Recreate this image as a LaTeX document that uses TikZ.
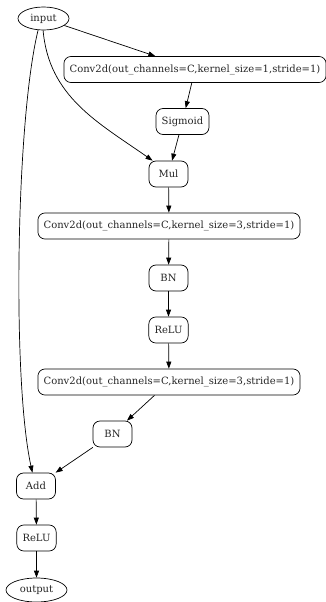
\documentclass[tikz,border=0pt]{standalone}
\usepackage{fontspec}
\setmainfont{DejaVu Serif}
\usetikzlibrary{arrows.meta,shapes.geometric}
\tikzset{
  x=1pt,y=1pt,
  every node/.style={font=\fontsize{10}{12}\selectfont, text=black!85},
  op/.style={draw, rectangle, rounded corners=7pt, line width=0.7pt, minimum height=26pt, minimum width=39pt, inner xsep=5.7pt, inner ysep=0pt},
  io/.style={draw, ellipse, line width=0.7pt, inner sep=0pt},
  edge/.style={-{Triangle[length=7pt,width=5pt]}, line width=0.7pt}
}
\begin{document}
\begin{tikzpicture}
\useasboundingbox (0,0) rectangle (326,-602);
\node[io, minimum width=51pt, minimum height=23pt] (input) at (43.5,-18.5) {input};
\node[op] (conv1) at (195,-69.5) {Conv2d(out\_channels=C,kernel\_size=1,stride=1)};
\node[op] (sig) at (182.5,-121.5) {Sigmoid};
\node[op] (mul) at (168.5,-174) {Mul};
\node[op] (conv2) at (169,-226) {Conv2d(out\_channels=C,kernel\_size=3,stride=1)};
\node[op] (bn1) at (168.5,-278) {BN};
\node[op] (relu1) at (168.5,-330) {ReLU};
\node[op] (conv3) at (169,-382) {Conv2d(out\_channels=C,kernel\_size=3,stride=1)};
\node[op] (bn2) at (112.5,-434) {BN};
\node[op] (add) at (36,-486) {Add};
\node[op] (relu2) at (36.5,-538) {ReLU};
\node[io, minimum width=61pt, minimum height=24pt] (output) at (36.5,-590) {output};
\draw[edge] (input) -- (conv1);
\draw[edge] (conv1) -- (sig);
\draw[edge] (sig) -- (mul);
\draw[edge] (input.268) to[out=-85,in=145] (mul.140);
\draw[edge] (mul) -- (conv2);
\draw[edge] (conv2) -- (bn1);
\draw[edge] (bn1) -- (relu1);
\draw[edge] (relu1) -- (conv3);
\draw[edge] (conv3) -- (bn2);
\draw[edge] (bn2) -- (add);
\draw[edge] (input.245) .. controls (16,-120) and (12,-380) .. (add.105);
\draw[edge] (add) -- (relu2);
\draw[edge] (relu2) -- (output);
\end{tikzpicture}
\end{document}
